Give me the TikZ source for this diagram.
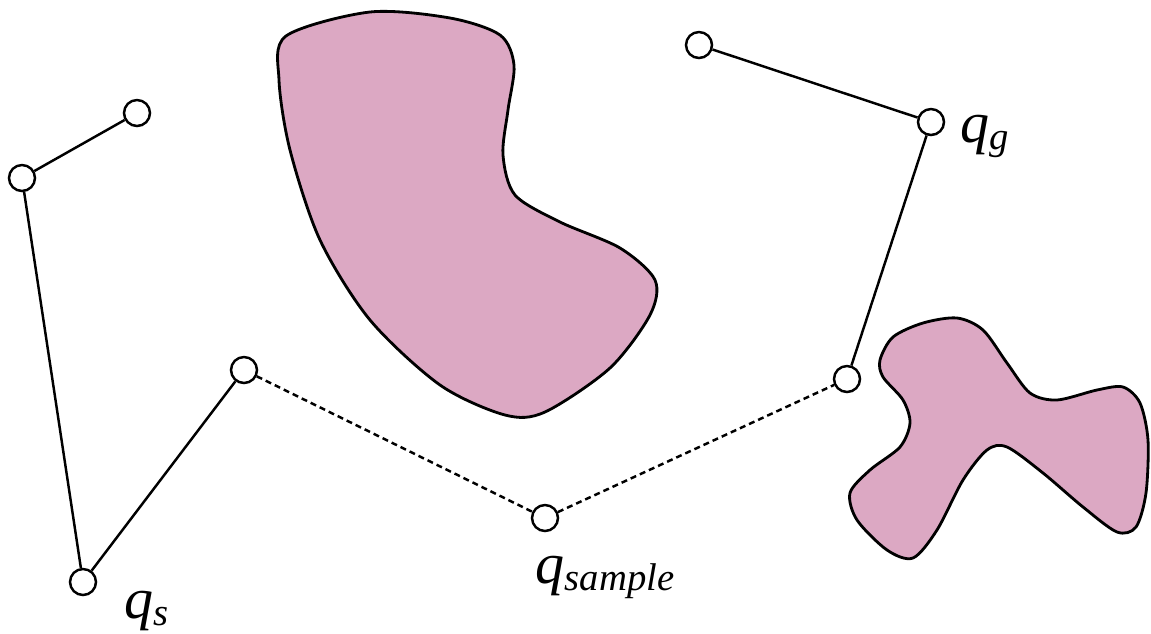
\documentclass[tikz,border=0pt]{standalone}
\usepackage{fontspec}
\setmainfont{Liberation Serif}
\usetikzlibrary{positioning}
\definecolor{obst}{HTML}{DCA8C3}
\newcommand{\qsub}[1]{\textit{q}\raisebox{-4pt}{\fontsize{22}{22}\selectfont\textit{#1}}}

\begin{document}
\begin{tikzpicture}[x=0.2mm, y=-0.2mm, node distance=2mm, every node/.style={circle, draw, line width=1.4pt, fill=white, minimum size=5.2mm, inner sep=0pt}, lbl/.style={draw=none, fill=none, rectangle, inner sep=0pt, font=\fontsize{33}{33}\selectfont}]
\useasboundingbox (0,0) rectangle (1151,634);
% obstacles
\draw[line width=1.6pt, fill=obst] plot[smooth cycle] coordinates {(286,36) (370,12) (450,18) (500,35) (514,65) (508,110) (503,155) (515,195) (560,222) (620,248) (655,280) (650,315) (610,368) (545,412) (505,415) (440,385) (370,320) (320,240) (290,150) (279,80)};
\draw[line width=1.6pt, fill=obst] plot[smooth cycle] coordinates {(880,360) (893,337) (923,323) (957,318) (983,330) (1007,363) (1030,393) (1057,400) (1097,390) (1123,387) (1140,403) (1148,440) (1146,493) (1136,527) (1117,532) (1083,507) (1043,473) (1007,447) (987,450) (963,480) (937,530) (913,558) (887,550) (857,520) (850,493) (870,470) (900,447) (910,423) (903,400) (883,377)};
% tree
\node (a) at (137,113) {};
\node (b) at (22,178) {};
\node (qs) at (83,582) {};
\node (c) at (244,370) {};
\node (qsample) at (545,518) {};
\node (d) at (847,379) {};
\node (qg) at (931,122) {};
\node (e) at (699,45) {};
\foreach \x/\y in {a/b,b/qs,qs/c,d/qg,qg/e} \draw[line width=1.4pt] (\x) -- (\y);
\foreach \x/\y in {c/qsample,qsample/d} \draw[line width=1.4pt, dash pattern=on 3.4pt off 2.3pt] (\x) -- (\y);
\node[lbl, below right=-0.4mm and 6mm of qs] {\qsub{s}};
\node[lbl, below=4.6mm of qsample, xshift=12mm] {\qsub{sample}};
\node[lbl, right=2.8mm of qg, yshift=-2.8mm] {\qsub{g}};
\end{tikzpicture}
\end{document}
